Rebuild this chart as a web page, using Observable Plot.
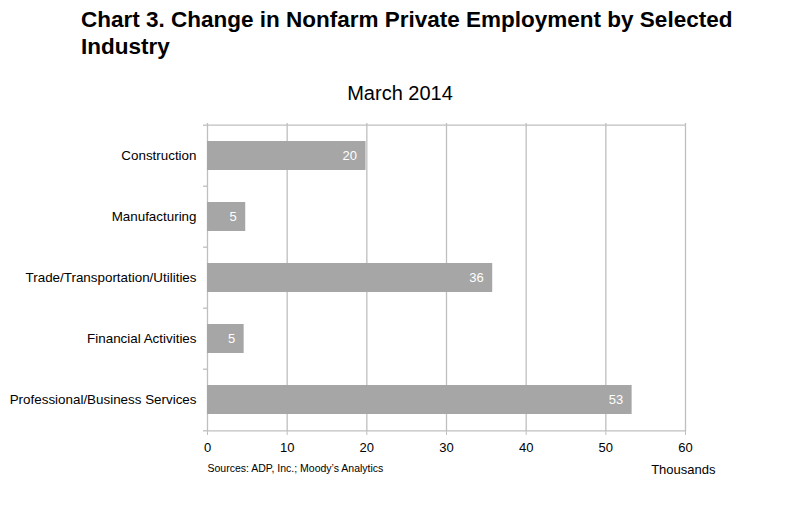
<!DOCTYPE html>
<html>
<head>
<meta charset="utf-8">
<script src="https://cdn.jsdelivr.net/npm/d3@7"></script>
<script src="https://cdn.jsdelivr.net/npm/@observablehq/plot@0.6"></script>
<style>
  body { margin: 0; background: #fff; font-family: "Liberation Sans", Arial, sans-serif; }
  #wrap { position: relative; width: 800px; height: 532px; overflow: hidden; }
  #title { position: absolute; left: 81px; top: 6px; font-size: 22.5px; font-weight: bold; line-height: 27px; color: #000; }
  #subtitle { position: absolute; left: 0; width: 800px; top: 82px; text-align: center; font-size: 20px; color: #000; }
  #chart { position: absolute; left: 0; top: 110px; width: 800px; }
</style>
</head>
<body>
<div id="wrap">
  <div id="title">Chart 3. Change in Nonfarm Private Employment by Selected<br>Industry</div>
  <div id="subtitle">March 2014</div>
  <div id="chart"></div>
</div>
<script>
const industries = ["Construction", "Manufacturing", "Trade/Transportation/Utilities", "Financial Activities", "Professional/Business Services"];
const values = [19.9, 4.8, 35.8, 4.6, 53.3];
const labels = ["20", "5", "36", "5", "53"];
const xTicks = [0, 10, 20, 30, 40, 50, 60];

const data = industries.map((name, i) => ({name, value: values[i], label: labels[i]}));

const H = 422, mt = 13, mb = 101;
const bandPx = (H - mt - mb) / industries.length;
const grey = "#bfbfbf";

const chart = Plot.plot({
  width: 800,
  height: H,
  marginLeft: 207,
  marginRight: 115,
  marginTop: mt,
  marginBottom: mb,
  style: {fontFamily: "Liberation Sans, Arial, sans-serif", background: "#fff"},
  x: {domain: [0, 60], ticks: xTicks, label: null},
  y: {domain: industries, paddingInner: 0.53, paddingOuter: 0.265, label: null},
  marks: [
    // vertical gridlines
    Plot.ruleX(xTicks, {stroke: grey, strokeWidth: 1.3}),
    // top frame
    Plot.ruleY([0], {y: () => industries[0], dy: -bandPx / 2, x1: 0, x2: 60, stroke: grey, strokeWidth: 1.3}),
    // bottom axis line
    Plot.ruleY([0], {y: () => industries[industries.length - 1], dy: bandPx / 2, x1: 0, x2: 60, stroke: grey, strokeWidth: 1.3}),
    // left band boundary ticks
    Plot.ruleY(industries, {y: d => d, dy: -bandPx / 2, x1: -0.5, x2: 0, stroke: grey, strokeWidth: 1.3}),
    Plot.ruleY([industries[industries.length - 1]], {y: d => d, dy: bandPx / 2, x1: -0.5, x2: 0, stroke: grey, strokeWidth: 1.3}),
    // bars
    Plot.barX(data, {y: "name", x1: 0, x2: "value", fill: "#a6a6a6"}),
    // value labels
    Plot.text(data, {y: "name", x: "value", text: "label", textAnchor: "end", dx: -9, fill: "#fff", fontSize: 13}),
    // x axis
    Plot.axisX({ticks: xTicks, tickSize: 4, stroke: grey, fontSize: 13, fill: "#000", tickPadding: 7, label: null, tickFormat: d => d}),
    // y axis labels
    Plot.axisY({tickSize: 0, tickPadding: 11, fontSize: 13.4, fill: "#000", label: null}),
    // annotations
    Plot.text(["Sources: ADP, Inc.; Moody\u2019s Analytics"], {frameAnchor: "bottom-left", dy: 40, textAnchor: "start", fontSize: 10.5, fill: "#000"}),
    Plot.text(["Thousands"], {frameAnchor: "bottom-right", dx: 30, dy: 42, textAnchor: "end", fontSize: 13, fill: "#000"})
  ]
});
document.getElementById("chart").appendChild(chart);
</script>
</body>
</html>
